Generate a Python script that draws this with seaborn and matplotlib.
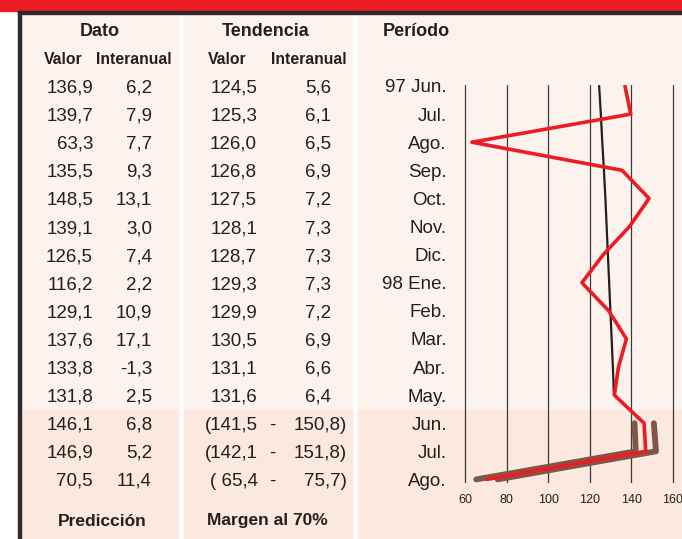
import matplotlib
matplotlib.use("Agg")
from matplotlib import pyplot as plt
from matplotlib.patches import Rectangle
import numpy as np
import pandas as pd
import seaborn as sns

# data
periodo = ["97 Jun.", "Jul.", "Ago.", "Sep.", "Oct.", "Nov.", "Dic.", "98 Ene.",
           "Feb.", "Mar.", "Abr.", "May.", "Jun.", "Jul.", "Ago."]
dato_valor = [136.9, 139.7, 63.3, 135.5, 148.5, 139.1, 126.5, 116.2,
              129.1, 137.6, 133.8, 131.8, 146.1, 146.9, 70.5]
dato_inter = [6.2, 7.9, 7.7, 9.3, 13.1, 3.0, 7.4, 2.2,
              10.9, 17.1, -1.3, 2.5, 6.8, 5.2, 11.4]
tend_valor = [124.5, 125.3, 126.0, 126.8, 127.5, 128.1, 128.7, 129.3,
              129.9, 130.5, 131.1, 131.6]
tend_inter = [5.6, 6.1, 6.5, 6.9, 7.2, 7.3, 7.3, 7.3, 7.2, 6.9, 6.6, 6.4]
margen_inf = [141.5, 142.1, 65.4]
margen_sup = [150.8, 151.8, 75.7]
x_ticks = [60, 80, 100, 120, 140, 160]

W, H = 682, 539
RED = "#ed1c24"
BROWN = "#7f5648"
LIGHT = "#fdf3ee"
DARK = "#fbe8df"
INK = "#231f20"

sns.set_style("white")
plt.rcParams["font.family"] = ["Liberation Sans", "DejaVu Sans"]


def fx(x):
    return x / W


def fy(y):
    return 1 - y / H


def fmt(v):
    return f"{v:.1f}".replace(".", ",")


fig = plt.figure(figsize=(W / 100, H / 100), dpi=100)
fig.patch.set_facecolor("white")

# background panels
for x0, x1 in [(20, 178), (184, 352), (358, 682)]:
    fig.patches.append(Rectangle((fx(x0), fy(539)), fx(x1 - x0), (539 - 13) / H,
                                 transform=fig.transFigure, color=LIGHT, zorder=0))
    fig.patches.append(Rectangle((fx(x0), fy(539)), fx(x1 - x0), (539 - 410) / H,
                                 transform=fig.transFigure, color=DARK, zorder=0))
# top red band and borders
fig.patches.append(Rectangle((0, fy(11)), 1, 11 / H, transform=fig.transFigure,
                             color=RED, zorder=1))
fig.patches.append(Rectangle((fx(17.5), fy(13.5)), 1, 2.5 / H, transform=fig.transFigure,
                             color="#2e2a2b", zorder=1))
fig.patches.append(Rectangle((fx(17.5), 0), 3 / W, fy(11), transform=fig.transFigure,
                             color="#2e2a2b", zorder=1))

# chart rows geometry (pixels)
row0, step = 86.0, 28.1
ax_top, ax_bot = 85.0, 483.0
ax_left, ax_right = 462.0, 682.0
ax = fig.add_axes([fx(ax_left), fy(ax_bot), fx(ax_right - ax_left), (ax_bot - ax_top) / H])
ax.set_zorder(3)
ax.patch.set_alpha(0)

rows = np.arange(len(periodo))
pred_rows = rows[-3:]
df_dato = pd.DataFrame({"row": rows, "valor": dato_valor})
df_tend = pd.DataFrame({"row": rows[:len(tend_valor)], "valor": tend_valor})
df_inf = pd.DataFrame({"row": pred_rows, "valor": margen_inf})
df_sup = pd.DataFrame({"row": pred_rows, "valor": margen_sup})

for d in (df_inf, df_sup):
    sns.lineplot(data=d, x="valor", y="row", orient="y", sort=False, estimator=None,
                 color=BROWN, linewidth=4.2, ax=ax, zorder=3)
sns.lineplot(data=df_tend, x="valor", y="row", orient="y", sort=False, estimator=None,
             color=INK, linewidth=1.6, ax=ax, zorder=4)
sns.lineplot(data=df_dato, x="valor", y="row", orient="y", sort=False, estimator=None,
             color=RED, linewidth=2.6, ax=ax, zorder=5)

px_per_unit = (673 - 465) / 100
ax.set_xlim(60 - (465 - ax_left) / px_per_unit, 60 + (ax_right - 465) / px_per_unit)
ax.set_ylim(len(periodo) - 1 + (ax_bot - (row0 + step * 14)) / step, -(row0 - ax_top) / step)
ax.set_xticks(x_ticks)
ax.set_xticklabels([str(t) for t in x_ticks], fontsize=9, color=INK)
ax.set_yticks(rows)
ax.set_yticklabels(periodo, fontsize=13.5, color=INK)
ax.tick_params(axis="y", length=0, pad=11)
ax.tick_params(axis="x", length=0, pad=8)
ax.xaxis.grid(True, color="#3a3a3a", linewidth=0.9)
ax.yaxis.grid(False)
ax.set_axisbelow(True)
ax.set_xlabel("")
ax.set_ylabel("")
for s in ax.spines.values():
    s.set_visible(False)

# headers
hkw = dict(ha="center", va="center", fontweight="bold", color=INK)
fig.text(fx(100), fy(31), "Dato", fontsize=13, **hkw)
fig.text(fx(266), fy(31), "Tendencia", fontsize=13, **hkw)
fig.text(fx(383), fy(31), "Período", fontsize=13, ha="left", va="center",
         fontweight="bold", color=INK)
for cx, lab in [(63.5, "Valor"), (134, "Interanual"), (227, "Valor"), (309, "Interanual")]:
    fig.text(fx(cx), fy(59), lab, fontsize=11.3, **hkw)
fig.text(fx(102), fy(521), "Predicción", fontsize=12.5, **hkw)
fig.text(fx(267), fy(521), "Margen al 70%", fontsize=12.5, **hkw)

# table values
nkw = dict(ha="right", va="baseline", fontsize=13.5, color=INK)
base = 6.5
for i in rows:
    y = fy(row0 + step * i + base)
    fig.text(fx(93), y, fmt(dato_valor[i]), **nkw)
    fig.text(fx(152), y, fmt(dato_inter[i]), **nkw)
for i in range(len(tend_valor)):
    y = fy(row0 + step * i + base)
    fig.text(fx(257), y, fmt(tend_valor[i]), **nkw)
    fig.text(fx(331), y, fmt(tend_inter[i]), **nkw)
for k, i in enumerate(pred_rows):
    y = fy(row0 + step * i + base)
    lo = fmt(margen_inf[k])
    fig.text(fx(258), y, "(" + (" " if len(lo) < 5 else "") + lo, **nkw)
    fig.text(fx(272), y, "-", ha="center", va="baseline", fontsize=13.5, color=INK)
    fig.text(fx(347), y, fmt(margen_sup[k]) + ")", **nkw)

fig.savefig("out.png", dpi=100, facecolor="white")
